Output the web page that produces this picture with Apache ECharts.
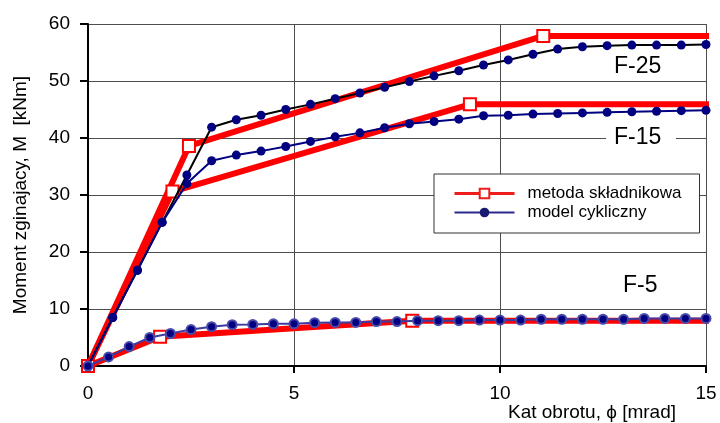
<!DOCTYPE html>
<html><head><meta charset="utf-8">
<script src="https://cdn.jsdelivr.net/npm/echarts/dist/echarts.min.js"></script>
<style>html,body{margin:0;padding:0;background:#fff}#c{width:720px;height:423px}</style>
</head><body><div id="c"></div>
<script>
// ---- data ----
const xTickLabels = ['0', '5', '10', '15'];
const yTickLabels = ['0', '10', '20', '30', '40', '50', '60'];

// model cykliczny (cyclic model)
const cycX = [0, 0.6, 1.2, 1.8, 2.4, 3.0, 3.6, 4.2, 4.8, 5.4, 6.0, 6.6, 7.2, 7.8, 8.4, 9.0, 9.6, 10.2, 10.8, 11.4, 12.0, 12.6, 13.2, 13.8, 14.4, 15.0];
const cycF25 = [0, 8.5, 16.8, 25.2, 33.5, 41.9, 43.2, 44.0, 45.0, 45.9, 46.9, 47.9, 48.9, 49.9, 50.9, 51.8, 52.8, 53.7, 54.7, 55.6, 56.0, 56.2, 56.3, 56.3, 56.3, 56.4];
const cycF15 = [0, 8.5, 16.8, 25.2, 32.0, 36.0, 37.0, 37.7, 38.5, 39.4, 40.2, 40.9, 41.8, 42.5, 42.9, 43.3, 43.9, 44.0, 44.2, 44.3, 44.4, 44.5, 44.6, 44.7, 44.8, 44.85];
const cycX5 = [0, 0.5, 1.0, 1.5, 2.0, 2.5, 3.0, 3.5, 4.0, 4.5, 5.0, 5.5, 6.0, 6.5, 7.0, 7.5, 8.0, 8.5, 9.0, 9.5, 10.0, 10.5, 11.0, 11.5, 12.0, 12.5, 13.0, 13.5, 14.0, 14.5, 15.0];
const cycF5 = [0, 1.6, 3.4, 5.0, 5.7, 6.4, 6.9, 7.25, 7.3, 7.4, 7.4, 7.6, 7.65, 7.65, 7.8, 7.8, 7.95, 7.95, 7.95, 8.05, 8.05, 8.05, 8.2, 8.2, 8.2, 8.2, 8.2, 8.35, 8.35, 8.35, 8.35];

// metoda składnikowa (component method)
const compX_F25 = [0, 2.45, 11.05, 15.22];
const compY_F25 = [0, 38.6, 57.9, 57.9];
const compX_F15 = [0, 2.05, 9.27, 15.22];
const compY_F15 = [0, 30.6, 45.9, 45.9];
const compX_F5 = [0, 1.75, 7.87, 15.22];
const compY_F5 = [0, 5.15, 7.95, 7.95];

const curveLabels = ['F-25', 'F-15', 'F-5'];
const legendNames = ['metoda składnikowa', 'model cykliczny'];

// ---- build ----
const FONT = '"Liberation Sans", Arial, sans-serif';
const zip = (xs, ys) => xs.map((x, i) => [x, ys[i]]);
const compData = (xs, ys) => zip(xs, ys).map((p, i) => i === xs.length - 1 ? { value: p, symbol: 'none' } : p);

function compSeries(xs, ys) {
  return {
    name: legendNames[0], type: 'line', data: compData(xs, ys), clip: false,
    symbol: 'rect', symbolSize: 12,
    itemStyle: { color: '#ffffff', borderColor: '#ff0000', borderWidth: 2 },
    lineStyle: { color: '#ff0000', width: 6 },
    z: 2, silent: true
  };
}
function cycSeries(xs, ys, lineColor, extra) {
  return Object.assign({
    name: legendNames[1], type: 'line', data: zip(xs, ys),
    symbol: 'circle', symbolSize: 9, showAllSymbol: true,
    itemStyle: { color: '#000080' },
    lineStyle: { color: lineColor, width: 2 },
    z: 3, silent: true
  }, extra || {});
}

const chart = echarts.init(document.getElementById('c'), null, { renderer: 'canvas' });
chart.setOption({
  animation: false,
  backgroundColor: '#ffffff',
  textStyle: { fontFamily: FONT },
  grid: { left: 88, right: 14, top: 24, bottom: 57 },
  xAxis: {
    type: 'value', min: 0, max: 15, interval: 5,
    axisLine: { show: true, onZero: false, lineStyle: { color: '#000', width: 2 } },
    axisTick: { show: true, length: 7, lineStyle: { color: '#000', width: 2 } },
    axisLabel: { margin: 18, fontSize: 19, color: '#000', fontFamily: FONT,
      formatter: v => xTickLabels[Math.round(v / 5)] },
    splitLine: { show: true, lineStyle: { color: '#4d4d4d', width: 1 } }
  },
  yAxis: {
    type: 'value', min: 0, max: 60, interval: 10,
    name: 'Moment zginajacy, M  [kNm]', nameLocation: 'middle', nameGap: 58,
    nameTextStyle: { fontSize: 19, color: '#000', fontFamily: FONT },
    axisLine: { show: true, onZero: false, lineStyle: { color: '#000', width: 2 } },
    axisTick: { show: true, length: 8, lineStyle: { color: '#000', width: 2 } },
    axisLabel: { margin: 18, fontSize: 19, color: '#000', fontFamily: FONT,
      formatter: v => yTickLabels[Math.round(v / 10)] },
    splitLine: { show: true, lineStyle: { color: '#4d4d4d', width: 1 } }
  },
  legend: {
    orient: 'vertical', left: 434, top: 174,
    padding: [10, 18, 11, 19], itemGap: 0,
    itemWidth: 60, itemHeight: 12,
    backgroundColor: '#ffffff', borderColor: '#333', borderWidth: 1,
    textStyle: { fontSize: 17, color: '#000', fontFamily: FONT, lineHeight: 19, padding: [0, 0, 0, 8] },
    data: [
      { name: legendNames[0],
        itemStyle: { color: '#ffffff', borderColor: '#ee1c1c', borderWidth: 2 },
        lineStyle: { color: '#ee1c1c', width: 3 } },
      { name: legendNames[1],
        itemStyle: { color: '#1a1a70', borderWidth: 0 },
        lineStyle: { color: '#2a2a8a', width: 2 } }
    ]
  },
  graphic: [
    { type: 'rect', z: 50, shape: { x: 606, y: 130, width: 70, height: 16 }, style: { fill: '#ffffff' } },
    { type: 'text', z: 60, left: 614, top: 55, style: { text: curveLabels[0], font: '23px ' + FONT, fill: '#000' } },
    { type: 'text', z: 60, left: 614, top: 126, style: { text: curveLabels[1], font: '23px ' + FONT, fill: '#000' } },
    { type: 'text', z: 60, left: 623, top: 274, style: { text: curveLabels[2], font: '23px ' + FONT, fill: '#000' } },
    { type: 'text', z: 60, left: 508, top: 403, style: { text: 'Kat obrotu, \u03d5 [mrad]', font: '19px ' + FONT, fill: '#000' } }
  ],
  series: [
    compSeries(compX_F25, compY_F25),
    compSeries(compX_F15, compY_F15),
    compSeries(compX_F5, compY_F5),
    cycSeries(cycX, cycF25, '#000000'),
    cycSeries(cycX, cycF15, '#000080'),
    cycSeries(cycX5, cycF5, '#3c3ca0', { itemStyle: { color: '#000080', borderColor: '#4a4aaa', borderWidth: 2 } })
  ]
});
</script>
</body></html>
